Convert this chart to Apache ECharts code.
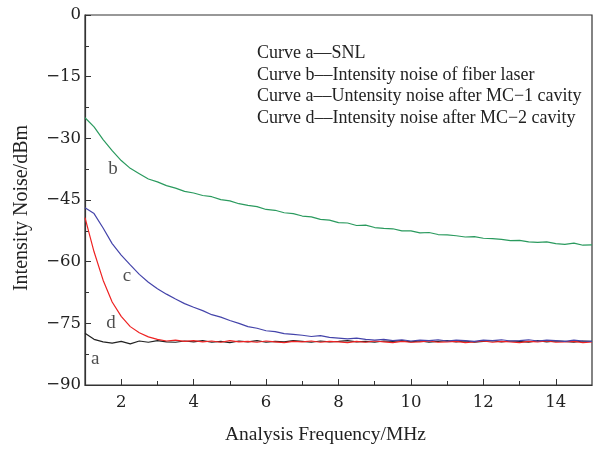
<!DOCTYPE html>
<html>
<head>
<meta charset="utf-8">
<script src="https://cdn.jsdelivr.net/npm/echarts@6/dist/echarts.min.js"></script>
<style>html,body{margin:0;padding:0;background:#fff}#c{width:595px;height:450px}</style>
</head>
<body>
<div id="c"></div>
<script>
const freq = [1,1.25,1.5,1.75,2,2.25,2.5,2.75,3,3.25,3.5,3.75,4,4.25,4.5,4.75,5,5.25,5.5,5.75,6,6.25,6.5,6.75,7,7.25,7.5,7.75,8,8.25,8.5,8.75,9,9.25,9.5,9.75,10,10.25,10.5,10.75,11,11.25,11.5,11.75,12,12.25,12.5,12.75,13,13.25,13.5,13.75,14,14.25,14.5,14.75,15];
const curveA = [-77.4,-78.9,-79.5,-79.8,-79.4,-80.0,-79.3,-79.6,-79.2,-79.5,-79.6,-79.3,-79.5,-79.2,-79.6,-79.4,-79.7,-79.3,-79.5,-79.2,-79.6,-79.4,-79.5,-79.2,-79.4,-79.6,-79.3,-79.5,-79.4,-79.2,-79.5,-79.4,-79.6,-79.3,-79.4,-79.2,-79.5,-79.3,-79.6,-79.4,-79.2,-79.5,-79.3,-79.6,-79.4,-79.2,-79.5,-79.3,-79.4,-79.6,-79.2,-79.5,-79.3,-79.4,-79.6,-79.3,-79.4];
const curveB = [-25.0,-27.2,-30.3,-33.0,-35.4,-37.3,-38.6,-39.9,-40.6,-41.5,-42.1,-42.9,-43.3,-43.9,-44.2,-44.9,-45.2,-45.9,-46.3,-46.6,-47.3,-47.5,-48.1,-48.3,-48.9,-49.1,-49.7,-49.9,-50.5,-50.6,-51.2,-51.1,-51.7,-51.9,-52.0,-52.5,-52.5,-53.0,-52.9,-53.4,-53.5,-53.7,-54.0,-53.9,-54.3,-54.4,-54.6,-54.9,-54.8,-55.2,-55.3,-55.2,-55.6,-55.8,-55.5,-56.0,-55.9];
const curveC = [-46.9,-48.3,-51.8,-55.6,-58.4,-60.8,-63.1,-65.0,-66.6,-67.9,-69.1,-70.2,-71.1,-71.9,-72.9,-73.5,-74.3,-75.0,-75.8,-76.2,-76.8,-77.0,-77.5,-77.7,-77.9,-78.2,-78.0,-78.4,-78.6,-78.8,-78.6,-78.9,-79.1,-78.9,-79.2,-79.0,-79.3,-79.1,-79.2,-79.0,-79.3,-79.1,-79.2,-79.4,-79.1,-79.2,-79.0,-79.3,-79.2,-79.0,-79.3,-79.1,-79.2,-79.4,-79.1,-79.3,-79.4];
const curveD = [-49.3,-57.6,-64.5,-69.8,-73.3,-75.8,-77.3,-78.3,-78.9,-79.3,-79.1,-79.4,-79.2,-79.5,-79.3,-79.6,-79.2,-79.5,-79.4,-79.6,-79.3,-79.5,-79.7,-79.4,-79.5,-79.3,-79.6,-79.4,-79.5,-79.7,-79.4,-79.6,-79.3,-79.5,-79.7,-79.4,-79.6,-79.5,-79.3,-79.6,-79.5,-79.4,-79.7,-79.5,-79.3,-79.6,-79.4,-79.5,-79.7,-79.4,-79.5,-79.3,-79.6,-79.5,-79.4,-79.7,-79.5];
const xMajorTicks = [2,4,6,8,10,12,14];
const xMinorTicks = [3,5,7,9,11,13];
const curveLabels = [["b",1.77,-37.4],["c",2.16,-63.6],["d",1.72,-75.0],["a",1.28,-83.8]];
const legendLines = [
  "Curve a\u2014SNL",
  "Curve b\u2013\u2013Intensity noise of fiber laser",
  "Curve a\u2013\u2013Untensity noise after MC\u22121 cavity",
  "Curve d\u2013\u2013Intensity noise after MC\u22122 cavity"
];

const FONT = "Liberation Serif";
const TICKFONT = "DejaVu Serif";
const zip = (xs, ys) => xs.map((x, i) => [x, ys[i]]);
const chart = echarts.init(document.getElementById('c'), null, {renderer: 'canvas'});
const lineS = (name, data, color) => ({
  name, type: 'line', data: zip(freq, data), showSymbol: false, symbol: 'none',
  lineStyle: {color, width: 1.2}, animation: false, z: 2
});
const axisCommon = {
  type: 'value', min: 1, max: 15, interval: 1, gridIndex: 0, position: 'bottom',
  splitLine: {show: false}
};
chart.setOption({
  animation: false,
  backgroundColor: '#fff',
  grid: {left: 85, right: 3, top: 15, bottom: 57, show: true, borderColor: '#333', borderWidth: 1.2, backgroundColor: 'transparent'},
  xAxis: [Object.assign({}, axisCommon, {
    name: 'Analysis Frequency/MHz', nameLocation: 'middle', nameGap: 40,
    nameTextStyle: {fontFamily: FONT, fontSize: 19.5, color: '#222', padding: [0, 26, 0, 0]},
    axisLine: {show: true, onZero: false, lineStyle: {color: '#333', width: 1.2}},
    axisTick: {show: true, inside: true, length: 6, customValues: xMajorTicks, lineStyle: {color: '#333'}},
    axisLabel: {fontFamily: TICKFONT, fontSize: 16.5, color: '#222', margin: 9, customValues: xMajorTicks}
  }), Object.assign({}, axisCommon, {
    axisLine: {show: false, onZero: false},
    axisTick: {show: true, inside: true, length: 4, customValues: xMinorTicks, lineStyle: {color: '#333'}},
    axisLabel: {show: false}
  })],
  yAxis: {
    type: 'value', min: -90, max: 0, interval: 15,
    name: 'Intensity Noise/dBm', nameLocation: 'middle', nameGap: 53,
    nameTextStyle: {fontFamily: FONT, fontSize: 20, color: '#222', padding: [0, 16, 0, 0]},
    axisLine: {show: true, onZero: false, lineStyle: {color: '#333', width: 1.2}},
    axisTick: {show: true, inside: true, length: 6, lineStyle: {color: '#333'}},
    minorTick: {show: true, splitNumber: 2, length: 4, lineStyle: {color: '#333'}},
    axisLabel: {fontFamily: TICKFONT, fontSize: 16.5, color: '#222', margin: 4,
      formatter: v => String(v).replace('-', '\u2212')},
    splitLine: {show: false}
  },
  series: [
    lineS('a', curveA, '#222222'),
    lineS('d', curveD, '#ee2222'),
    lineS('c', curveC, '#4444aa'),
    lineS('b', curveB, '#2a9a5e'),
    {
      type: 'scatter', data: curveLabels.map(l => ({value: [l[1], l[2]], name: l[0]})),
      symbolSize: 1, itemStyle: {color: 'transparent'}, silent: true,
      label: {show: true, position: 'inside', formatter: p => p.name,
        fontFamily: FONT, fontSize: 19, color: '#222'}
    }
  ],
  graphic: legendLines.map((t, i) => ({
    type: 'text', left: 257, top: 44 + i * 21.8,
    style: {text: t, fontFamily: FONT, fontSize: 18, fill: '#222'}
  }))
});
</script>
</body>
</html>
